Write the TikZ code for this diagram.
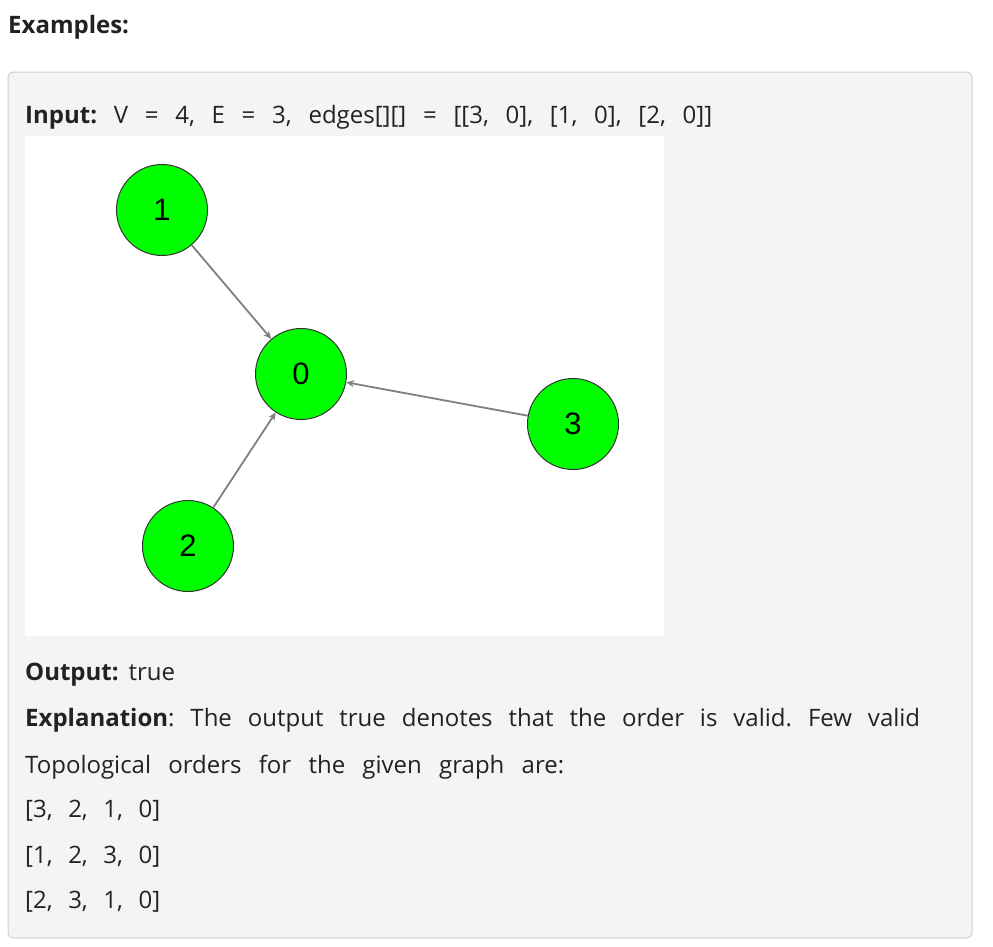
\documentclass[tikz,border=0pt]{standalone}
\usepackage{fontspec}
\setmainfont{Open Sans}
\newfontfamily\arialf{Liberation Sans}
\usetikzlibrary{arrows.meta}
\definecolor{boxfill}{HTML}{F4F4F4}
\definecolor{boxline}{HTML}{D0D0D0}
\definecolor{txt}{HTML}{222222}
\definecolor{edgec}{HTML}{808080}
\definecolor{vgreen}{HTML}{00FF00}
\frenchspacing
\tikzset{
  vert/.style={circle, draw=black!80, line width=1pt, fill=vgreen, minimum size=91pt, inner sep=0pt, font=\arialf\fontsize{31}{31}\selectfont},
  txtline/.style={anchor=base west, inner sep=0pt, text=txt, font=\fontsize{24}{28}\selectfont},
  edge/.style={draw=edgec, line width=1.8pt, -{Stealth[length=8pt,width=7pt]}}
}
\begin{document}
\begin{tikzpicture}[x=1pt,y=1pt]
\useasboundingbox (0,0) rectangle (993,-946);
\fill[white] (0,0) rectangle (993,-946);
\draw[boxline, fill=boxfill, line width=1pt, rounded corners=5pt] (8,-72) rectangle (972,-938);
\node[txtline] (title) at (8,-33) {\textbf{Examples:}};
\node[txtline] (input) at (25,-123) {\makebox[687pt][s]{\textbf{Input:} V = 4, E = 3, edges[][] = [[3, 0], [1, 0], [2, 0]]}};
\fill[white] (25,-136) rectangle (664,-636);
\node[vert] (n1) at (162,-210) {1};
\node[vert] (n0) at (301,-374) {0};
\node[vert] (n3) at (573,-424) {3};
\node[vert] (n2) at (188,-546) {2};
\draw[edge] (n1) -- (n0);
\draw[edge] (n3) -- (n0);
\draw[edge] (n2) -- (n0);
\node[txtline] (out) at (25,-680) {\makebox[150pt][s]{\textbf{Output:} true}};
\node[txtline] (exp1) at (25,-726) {\makebox[895pt][s]{\textbf{Explanation}: The output true denotes that the order is valid. Few valid}};
\node[txtline] (exp2) at (25,-773) {\makebox[539pt][s]{Topological orders for the given graph are:}};
\node[txtline] (o1) at (25,-817) {\makebox[135pt][s]{[3, 2, 1, 0]}};
\node[txtline] (o2) at (25,-863) {\makebox[135pt][s]{[1, 2, 3, 0]}};
\node[txtline] (o3) at (25,-908) {\makebox[135pt][s]{[2, 3, 1, 0]}};
\end{tikzpicture}
\end{document}
